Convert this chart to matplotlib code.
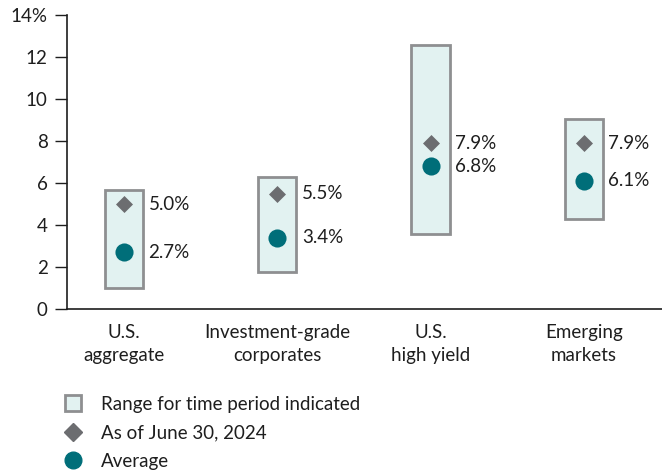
import matplotlib
matplotlib.use("Agg")
import matplotlib.pyplot as plt
from matplotlib.lines import Line2D

plt.rcParams['font.family'] = ['Lato', 'DejaVu Sans']

categories = ["U.S.\naggregate", "Investment-grade\ncorporates", "U.S.\nhigh yield", "Emerging\nmarkets"]
range_low = [1.0, 1.75, 3.55, 4.3]
range_high = [5.65, 6.3, 12.55, 9.05]
current = [5.0, 5.5, 7.9, 7.9]
average = [2.7, 3.4, 6.8, 6.1]
yticks = [0, 2, 4, 6, 8, 10, 12, 14]
yticklabels = ["0", "2", "4", "6", "8", "10", "12", "14%"]

box_fill = "#e2f2f1"
box_edge = "#8e8f91"
diamond_c = "#6c6d70"
circle_c = "#006e79"
text_c = "#1e1e1e"
fs = 13.5

fig = plt.figure(figsize=(6.62, 4.72), dpi=100)
ax = fig.add_axes([67/662, 1-309/472, 1-67/662, (309-15)/472])

x = list(range(len(categories)))
ax.bar(x, [h - l for h, l in zip(range_high, range_low)], bottom=range_low, width=0.25,
       color=box_fill, edgecolor=box_edge, linewidth=2, zorder=2)
ax.scatter(x, current, marker='D', s=75, color=diamond_c, zorder=3, linewidths=0)
ax.scatter(x, average, marker='o', s=170, color=circle_c, zorder=3, linewidths=0)

for xi, c, a in zip(x, current, average):
    ax.text(xi + 0.16, c, f"{c:.1f}%", va='center', ha='left', fontsize=fs, color=text_c)
    ax.text(xi + 0.16, a, f"{a:.1f}%", va='center', ha='left', fontsize=fs, color=text_c)

ax.set_xlim(-0.372, 3.51)
ax.set_ylim(0, 14)
ax.set_yticks(yticks)
ax.set_yticklabels(yticklabels)
ax.set_xticks(x)
ax.set_xticklabels(categories, linespacing=1.4)
ax.tick_params(axis='y', length=9, width=1, color=text_c, labelsize=fs, labelcolor=text_c, pad=5)
ax.tick_params(axis='x', length=0, labelsize=fs, labelcolor=text_c, pad=11)
for s in ['top', 'right']:
    ax.spines[s].set_visible(False)
for s in ['left', 'bottom']:
    ax.spines[s].set_color(text_c)
    ax.spines[s].set_linewidth(1.2)

handles = [
    Line2D([0], [0], marker='s', linestyle='None', markersize=11, markerfacecolor=box_fill,
           markeredgecolor=box_edge, markeredgewidth=2),
    Line2D([0], [0], marker='D', linestyle='None', markersize=9, color=diamond_c),
    Line2D([0], [0], marker='o', linestyle='None', markersize=12, color=circle_c),
]
labels = ["Range for time period indicated", "As of June 30, 2024", "Average"]
fig.legend(handles, labels, loc='upper left', bbox_to_anchor=(0.093, 0.162), frameon=False,
           fontsize=fs, labelspacing=0.62, handletextpad=0.9, handlelength=1.2,
           borderaxespad=0, borderpad=0, labelcolor=text_c)

fig.savefig("out.png", dpi=100)
